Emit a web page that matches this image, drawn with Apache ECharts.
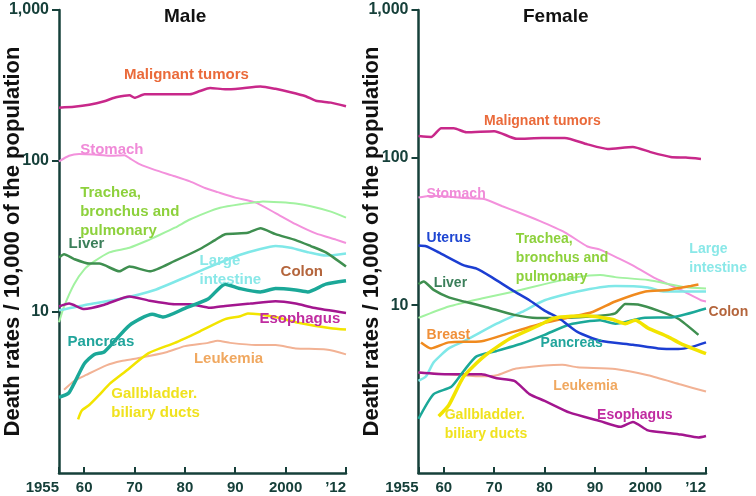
<!DOCTYPE html>
<html><head><meta charset="utf-8">
<script src="https://cdn.jsdelivr.net/npm/echarts@6/dist/echarts.min.js"></script>
<style>html,body{margin:0;padding:0;background:#fff}#c{width:756px;height:496px}</style>
</head><body><div id="c"></div>
<script>
// ---- tick labels ----
const xTicks = [1955, 1960, 1970, 1980, 1990, 2000, 2012];
const yTicks = [10, 100, 1000];

// ---- Male series: [year, death rate] ----
const maleMalignant = [[1955,225],[1958,228],[1961,235],[1964,248],[1966,262],[1968,270],[1969,272],[1970,262],[1972,276],[1976,276],[1981,276],[1983,290],[1985,304],[1988,298],[1991,302],[1995,311],[1998,300],[2001,285],[2004,268],[2006,250],[2009,243],[2012,230]];
const maleStomach = [[1955,99],[1957,108],[1959,111],[1962,110],[1965,108],[1968,109],[1969,104],[1971,95],[1974,87],[1978,79],[1981,73],[1984,66],[1986.5,62],[1990,57],[1994,53],[1998,45],[2002,38],[2006,33],[2010,30],[2012,28.5]];
const maleTrachea = [[1955,8.5],[1956,10.8],[1958,15.2],[1960,19],[1962,21.5],[1965,24.7],[1969,26.5],[1973,30],[1974,31.1],[1978,36],[1981,40.8],[1984,45],[1987,48.8],[1991,51.5],[1994,53],[1995.5,53.8],[1999,53],[2002,52],[2005,50],[2009,46],[2012,42]];
const maleLiver = [[1955,22.8],[1956,24],[1958,22.3],[1961,20.8],[1963,20.8],[1967,18.5],[1969,19.9],[1973,18.5],[1978,21.7],[1983,26],[1986,29.8],[1988,32.6],[1992.5,33.3],[1995,35.7],[1998,32.6],[2002,29.8],[2005,27.2],[2008,24.7],[2012,19.9]];
const maleLargeIntestine = [[1955,10.2],[1961,11.2],[1967,12.1],[1974,13.9],[1981,17.4],[1986.5,20.8],[1991,23.8],[1995,26],[1998,27.2],[2001,26.5],[2004.6,24.7],[2008,23.5],[2012,24.3]];
const maleEsophagus = [[1955,10.8],[1957,11.3],[1960,10.4],[1964,11.1],[1969,12.6],[1973,11.8],[1978,11.2],[1981,11.2],[1985,10.6],[1988,10.9],[1993,11.3],[1998,11.7],[2002,11.3],[2005.5,10.6],[2012,9.8]];
const malePancreas = [[1955,2.7],[1957,2.9],[1960,4.5],[1962,5.2],[1964,5.4],[1969,8.1],[1973.5,9.6],[1975.7,9.2],[1980,10.5],[1984.6,12.1],[1988,15.2],[1991,14.2],[1995,13.5],[1998,14.2],[2002,13.9],[2004.4,13.5],[2008,15.2],[2012,16]];
const maleLeukemia = [[1956,3.03],[1958,3.46],[1960.4,3.8],[1964.4,4.4],[1967.4,4.7],[1970.6,4.9],[1976.5,5.4],[1980,5.9],[1984.6,6.2],[1986.5,6.4],[1989,6.2],[1994,6.0],[1998,6.0],[2002,5.7],[2008,5.6],[2012,5.2]];
const maleGallbladder = [[1958.8,1.93],[1959.5,2.2],[1961,2.4],[1963,2.8],[1965,3.3],[1968,3.96],[1972.8,5.3],[1978,6.2],[1983,7.4],[1988,8.9],[1991,9.3],[1992.5,9.7],[1998,9.2],[2002,8.5],[2009,7.75],[2012,7.6]];

// ---- Female series: [year, death rate] ----
const femMalignant = [[1955,140],[1957.5,138],[1959.5,158],[1962,158],[1964.5,148.5],[1970,151],[1974.5,134],[1979.5,136],[1984,136],[1988.5,123],[1992.5,114.5],[1997.5,118],[2001,109],[2005,101],[2008,100],[2011,98]];
const femStomach = [[1955,53.6],[1957,55],[1959,55],[1964,53.2],[1968,52.4],[1971.5,47],[1974.5,43],[1979,37.3],[1984,31.2],[1988.5,25],[1991,23.8],[1995,20.5],[1998,18.2],[2002,15.2],[2007,12.7],[2011,10.8],[2012,10.6]];
const femUterus = [[1955,25.4],[1956.5,25.1],[1959,22.8],[1964,18.6],[1966.5,17.7],[1969.5,15.5],[1973.5,12.7],[1977,10.8],[1980,9.2],[1983,8.1],[1986.5,6.6],[1991,5.75],[1997.5,5.4],[2002.5,5.1],[2006.5,5.05],[2009,5.2],[2012,5.6]];
const femLiver = [[1955,13.9],[1956,14.5],[1958,12.7],[1961,11.3],[1964,10.6],[1968.5,9.7],[1974,8.6],[1978.5,8.2],[1982,8.2],[1991,8.5],[1994,8.8],[1996,10.2],[1998.5,10.1],[2002.5,9.2],[2006.5,8.1],[2010.5,6.3]];
const femTrachea = [[1955,8.2],[1961,9.8],[1967.5,11.1],[1974,12.4],[1980,13.9],[1986.5,15.5],[1991,16],[1994,15.5],[2000.5,14.8],[2007.5,13.3],[2012,13]];
const femLargeIntestine = [[1955,3.07],[1956.5,3.3],[1958,4.1],[1961,5.1],[1964,5.7],[1970.5,7.5],[1975.5,9.0],[1980,10.8],[1986.5,12.4],[1994,13.5],[2000.5,13.2],[2003.5,12.4],[2012,12.4]];
const femBreast = [[1955.5,5.6],[1957.5,5.1],[1961,5.6],[1967.5,5.7],[1972.5,6.4],[1980,7.6],[1985,8.3],[1989.5,9.0],[1994,10.6],[2000,12.4],[2004.5,12.7],[2009,13.5],[2010.5,13.8]];
const femPancreas = [[1955,1.7],[1958,2.5],[1961.5,2.8],[1964,3.6],[1966.5,4.5],[1970.5,4.9],[1975.5,5.5],[1980,6.3],[1985,7.4],[1991,7.9],[1994,7.5],[1999.5,8.2],[2005.5,8.3],[2012,9.5]];
const femGallbladder = [[1959,1.77],[1961,2.1],[1964,3.3],[1968,4.5],[1973,5.9],[1978.5,7.2],[1982,8.2],[1988.5,8.5],[1991,8.3],[1993.5,8.0],[1996,7.5],[1998,7.9],[2000.5,7.0],[2004.5,6.1],[2007,5.5],[2012,4.7]];
const femLeukemia = [[1955,3.5],[1961,3.4],[1967.5,3.3],[1970.5,3.35],[1974,3.7],[1980,3.9],[1983.5,3.95],[1986.5,3.8],[1994,3.7],[2000.5,3.35],[2007,2.9],[2012,2.6]];
const femEsophagus = [[1955,3.5],[1961,3.4],[1967.5,3.4],[1970.5,3.2],[1974,3.07],[1977,2.5],[1980,2.25],[1985,1.87],[1991,1.64],[1995,1.5],[1997.5,1.62],[2000.5,1.42],[2004,1.37],[2007,1.33],[2010.5,1.27],[2012,1.3]];

// ---- styling ----
const AX = '#16403a';
const FONT = '"Liberation Sans", Arial, sans-serif';
const C = {
  malignant:'#c8288a', stomach:'#f391dc', trachea:'#a2f2a0', liver:'#3f8f50',
  large:'#80e8e8', esophagus:'#a3168f', pancreas:'#1ba898', leukemia:'#f2b294',
  gall:'#f2e400', uterus:'#1c3ed2', breast:'#f08a1e'
};
const LC = {
  malignant:'#ea6a3a', stomach:'#f08ad8', trachea:'#8dd13c', liver:'#3b7f5a',
  large:'#8ae8e8', colon:'#b4653c', esophagus:'#c02ca0', pancreas:'#22a59c',
  leukemia:'#f0a860', gall:'#f0e21e', uterus:'#1e46d2', breast:'#f0903a'
};

function line(name, data, g, color, width) {
  return { name, type:'line', data, xAxisIndex:g, yAxisIndex:g, showSymbol:false, symbol:'none',
    smooth:0.2, lineStyle:{color, width}, itemStyle:{color}, silent:true, z:2 };
}
function xAx(g) {
  return { type:'value', gridIndex:g, min:1955, max:2012,
    axisLine:{lineStyle:{color:AX, width:2.5}},
    axisTick:{show:true, inside:true, length:6, customValues:xTicks, lineStyle:{color:AX, width:2}},
    axisLabel:{customValues:xTicks, color:AX, fontWeight:'bold', fontSize:15, fontFamily:FONT, margin:7,
      alignMinLabel:'right', alignMaxLabel:'right',
      formatter:v => v === 1955 ? '1955' : v === 2000 ? '2000' : v === 2012 ? '\u201912' : String(v % 100)},
    splitLine:{show:false} };
}
function yAx(g, gap, lo) {
  return { type:'log', logBase:10, gridIndex:g, min:lo, max:1000,
    axisLine:{show:true, lineStyle:{color:AX, width:2.5}},
    axisTick:{show:true, length:7, customValues:yTicks, lineStyle:{color:AX, width:2}},
    axisLabel:{customValues:yTicks, color:AX, fontWeight:'bold', fontSize:16, fontFamily:FONT, margin:10,
      formatter:v => v >= 1000 ? '1,000' : String(Math.round(v))},
    splitLine:{show:false},
    name:'Death rates / 10,000 of the population', nameLocation:'middle', nameGap:gap, nameMoveOverlap:false,
    nameTextStyle:{color:'#111', fontWeight:'bold', fontSize:22, fontFamily:FONT} };
}

const chart = echarts.init(document.getElementById('c'), null, {renderer:'canvas'});
chart.setOption({
  animation:false,
  title:[
    {text:'Male', left:164, top:7, padding:0, textStyle:{fontSize:19, fontWeight:'bold', color:'#111', fontFamily:FONT}},
    {text:'Female', left:523, top:7, padding:0, textStyle:{fontSize:19, fontWeight:'bold', color:'#111', fontFamily:FONT}}
  ],
  grid:[
    {left:59, top:10, width:287, height:463, outerBoundsMode:'none', containLabel:false},
    {left:418.5, top:10, width:287.5, height:463, outerBoundsMode:'none', containLabel:false}
  ],
  xAxis:[xAx(0), xAx(1)],
  yAxis:[yAx(0, 35, 0.85), yAx(1, 36, 0.73)],
  series:[
    line('Malignant tumors', maleMalignant, 0, C.malignant, 2.5),
    line('Stomach', maleStomach, 0, C.stomach, 2),
    line('Trachea, bronchus and pulmonary', maleTrachea, 0, C.trachea, 2),
    line('Large intestine', maleLargeIntestine, 0, C.large, 2.5),
    line('Liver', maleLiver, 0, C.liver, 2.5),
    line('Leukemia', maleLeukemia, 0, C.leukemia, 2),
    line('Gallbladder, biliary ducts', maleGallbladder, 0, C.gall, 2.5),
    line('Esophagus', maleEsophagus, 0, C.esophagus, 2.5),
    line('Pancreas', malePancreas, 0, C.pancreas, 3.5),

    line('Malignant tumors', femMalignant, 1, C.malignant, 2.5),
    line('Stomach', femStomach, 1, C.stomach, 2),
    line('Trachea, bronchus and pulmonary', femTrachea, 1, C.trachea, 2),
    line('Large intestine', femLargeIntestine, 1, C.large, 2.5),
    line('Leukemia', femLeukemia, 1, C.leukemia, 2),
    line('Esophagus', femEsophagus, 1, C.esophagus, 2.5),
    line('Liver', femLiver, 1, C.liver, 2.5),
    line('Breast', femBreast, 1, C.breast, 2.5),
    line('Pancreas', femPancreas, 1, C.pancreas, 2.5),
    line('Uterus', femUterus, 1, C.uterus, 2.5),
    line('Gallbladder, biliary ducts', femGallbladder, 1, C.gall, 3.5)
  ]
});

// ---- text labels anchored in data space (year, rate) ----
const labels = [
  {g:0, t:'Malignant tumors', x:1967.9, y:371, c:LC.malignant, s:15},
  {g:0, t:'Stomach', x:1959.2, y:119, c:LC.stomach, s:15},
  {g:0, t:'Trachea,\nbronchus and\npulmonary', x:1959.2, y:61.6, c:LC.trachea, s:15},
  {g:0, t:'Liver', x:1956.9, y:28.2, c:LC.liver, s:15},
  {g:0, t:'Large\nintestine', x:1982.9, y:21.6, c:LC.large, s:15},
  {g:0, t:'Colon', x:1999, y:18.3, c:LC.colon, s:15},
  {g:0, t:'Esophagus', x:1994.8, y:8.95, c:LC.esophagus, s:15},
  {g:0, t:'Pancreas', x:1956.7, y:6.25, c:LC.pancreas, s:15},
  {g:0, t:'Leukemia', x:1981.8, y:4.83, c:LC.leukemia, s:15},
  {g:0, t:'Gallbladder.\nbiliary ducts', x:1965.4, y:2.83, c:LC.gall, s:15},

  {g:1, t:'Malignant tumors', x:1968, y:177.8, c:LC.malignant, s:14},
  {g:1, t:'Stomach', x:1956.6, y:56.6, c:LC.stomach, s:14},
  {g:1, t:'Uterus', x:1956.6, y:28.4, c:LC.uterus, s:14},
  {g:1, t:'Trachea,\nbronchus and\npulmonary', x:1974.3, y:28.0, c:LC.trachea, s:14},
  {g:1, t:'Large\nintestine', x:2008.7, y:23.8, c:LC.large, s:14},
  {g:1, t:'Liver', x:1958, y:14.1, c:LC.liver, s:14},
  {g:1, t:'Breast', x:1956.6, y:6.31, c:LC.breast, s:14},
  {g:1, t:'Colon', x:2012.5, y:8.99, c:LC.colon, s:14},
  {g:1, t:'Pancreas', x:1979.2, y:5.52, c:LC.pancreas, s:14},
  {g:1, t:'Leukemia', x:1981.7, y:2.83, c:LC.leukemia, s:14},
  {g:1, t:'Esophagus', x:1990.4, y:1.81, c:LC.esophagus, s:14},
  {g:1, t:'Gallbladder.\nbiliary ducts', x:1960.2, y:1.81, c:LC.gall, s:14}
];
const LH = 19;
const graphic = labels.map(l => {
  const p = chart.convertToPixel({gridIndex:l.g}, [l.x, l.y]);
  return { type:'text', x:p[0], y:p[1] - LH/2, z:10, silent:true,
    style:{ text:l.t, fill:l.c, font:'bold ' + l.s + 'px ' + FONT, lineHeight:LH, textAlign:'left', textVerticalAlign:'top' } };
});
chart.setOption({graphic});
</script>
</body></html>
